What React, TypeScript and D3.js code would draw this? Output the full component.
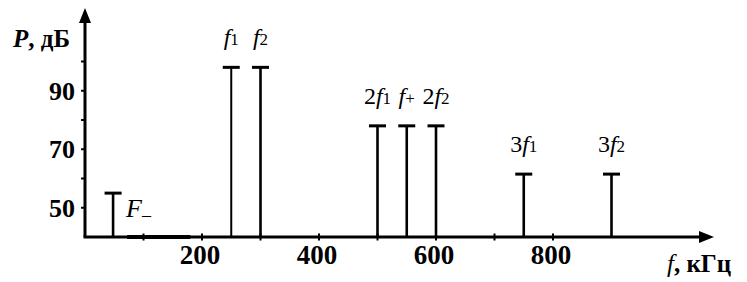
import React from "react";
import * as d3 from "d3";

// spectrum lines: frequency (kHz) and level (dB)
const freqs = [48, 250, 300, 500, 550, 600, 750, 900];
const levels = [55, 98, 98, 78, 78, 78, 61.5, 61.5];
const prefixes = ["", "", "", "2", "", "2", "3", "3"];
const mains = ["F", "f", "f", "f", "f", "f", "f", "f"];
const subs = ["\u2013", "1", "2", "1", "+", "2", "1", "2"];

const xTicks = [100, 200, 300, 400, 500, 600, 700, 800];
const xTickLabels = [200, 400, 600, 800];
const yTicks = [50, 60, 70, 80, 90, 100];
const yTickLabels = [50, 70, 90];
const floorSpan = [72, 180];

const W = 747;
const H = 282;
const FONT = "'Liberation Serif', 'Times New Roman', Times, 'DejaVu Serif', serif";

const App = () => {
  const x = d3.scaleLinear().domain([0, 1000]).range([85, 670]);
  const y = d3.scaleLinear().domain([40, 100]).range([237, 61.5]);
  const x0 = x(0);
  const y0 = y(40);

  const ts = { fontFamily: FONT };

  return (
    <svg width={W} height={H} style={{ position: "absolute", left: 0, top: 0 }}>
      <rect width={W} height={H} fill="#fff" />

      {/* axes */}
      <line x1={x0} y1={y0} x2={x0} y2={20} stroke="#000" strokeWidth={3} />
      <path d={`M${x0},8 L${x0 - 6},23 L${x0 + 6},23 Z`} fill="#000" />
      <line x1={x0 - 1.5} y1={y0} x2={702} y2={y0} stroke="#000" strokeWidth={3} />
      <path d={`M714,${y0} L699,${y0 - 6} L699,${y0 + 6} Z`} fill="#000" />
      <line x1={x(floorSpan[0])} y1={y0} x2={x(floorSpan[1])} y2={y0} stroke="#000" strokeWidth={4} />

      {/* y ticks */}
      {yTicks.map((t) => (
        <line key={t} x1={x0 - 4} y1={y(t)} x2={x0} y2={y(t)} stroke="#000" strokeWidth={2} />
      ))}
      {yTickLabels.map((t) => (
        <text key={t} style={ts} x={x0 - 10} y={y(t)} dy="0.35em" textAnchor="end" fontSize={26} fontWeight="bold">
          {t}
        </text>
      ))}

      {/* x ticks */}
      {xTicks.map((t) => (
        <line key={t} x1={x(t)} y1={y0 - 3.5} x2={x(t)} y2={y0 + 3.5} stroke="#000" strokeWidth={2} />
      ))}
      {xTickLabels.map((t) => (
        <text key={t} style={ts} x={x(t) - 2} y={264} textAnchor="middle" fontSize={27} fontWeight="bold">
          {t}
        </text>
      ))}

      {/* spectrum lines */}
      {freqs.map((f, i) => {
        const cx = x(f);
        const cy = y(levels[i]);
        return (
          <g key={i}>
            <line x1={cx} y1={y0} x2={cx} y2={cy} stroke="#000" strokeWidth={i === 1 ? 2 : 2.6} />
            <line x1={cx - 8.5} y1={cy} x2={cx + 8.5} y2={cy} stroke="#000" strokeWidth={3} />
            {i === 0 ? (
              <text style={ts} x={cx + 13} y={cy + 24} fontSize={26}>
                <tspan fontStyle="italic">{mains[i]}</tspan>
                <tspan fontSize={18} dx={0} dy={4}>{subs[i]}</tspan>
              </text>
            ) : (
              <text style={ts} x={cx} y={cy - 22} textAnchor="middle" fontSize={24}>
                {prefixes[i] && <tspan>{prefixes[i]}</tspan>}
                <tspan fontStyle="italic">{mains[i]}</tspan>
                <tspan fontSize={17}>{subs[i]}</tspan>
              </text>
            )}
          </g>
        );
      })}

      {/* axis titles */}
      <text style={ts} x={13} y={47} fontSize={25} fontWeight="bold">
        <tspan fontStyle="italic">P</tspan>
        <tspan>, дБ</tspan>
      </text>
      <text style={ts} x={667} y={272} fontSize={25} fontWeight="bold">
        <tspan fontStyle="italic" fontWeight="normal">f</tspan>
        <tspan>, кГц</tspan>
      </text>
    </svg>
  );
};

export default App;
